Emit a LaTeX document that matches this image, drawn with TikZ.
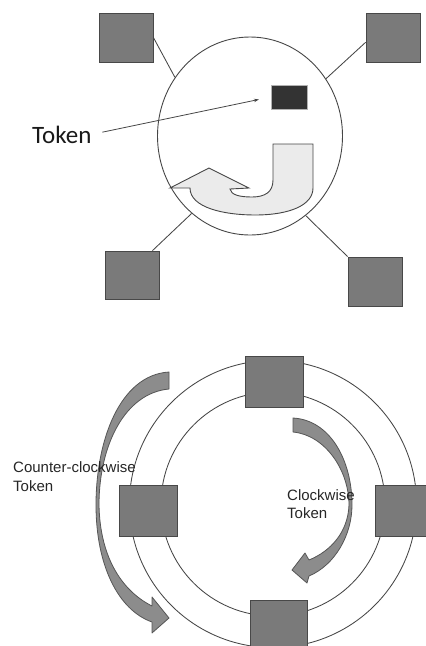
\documentclass[tikz,border=0pt]{standalone}
\usepackage{fontspec}
\newfontfamily\calib{Carlito}
\newfontfamily\helv{Liberation Sans}
\usetikzlibrary{shapes.geometric,arrows.meta,calc}
\definecolor{sqfill}{RGB}{122,122,122}
\definecolor{sqline}{RGB}{72,72,72}
\definecolor{lineg}{RGB}{70,70,70}
\definecolor{tokfill}{RGB}{51,51,51}
\definecolor{jfill}{RGB}{235,235,235}
\definecolor{arrfill}{RGB}{140,140,140}
\definecolor{arrline}{RGB}{85,85,85}
\begin{document}
\begin{tikzpicture}[x=1pt,y=-1pt,
  sq/.style={draw=sqline,fill=sqfill,line width=0.8pt,inner sep=0pt,minimum width=54pt,minimum height=49pt},
  bsq/.style={draw=sqline,fill=sqfill,line width=0.8pt,inner sep=0pt,minimum width=58pt,minimum height=51pt},
  conn/.style={draw=lineg,line width=0.85pt},
  ringline/.style={draw=lineg,line width=0.85pt},
  arr/.style={draw=arrline,fill=arrfill,line width=0.8pt,line join=round},
  lab/.style={font=\helv\fontsize{15}{18}\selectfont,inner sep=0pt,text=black!85,anchor=base west}]
\useasboundingbox (0,0) rectangle (426,646);
\clip (0,0) rectangle (426,646);
% ---------- top diagram ----------
\node[ellipse,draw=lineg,line width=0.9pt,minimum width=185pt,minimum height=198pt,inner sep=0pt] (ring) at (250,136) {};
\node[sq] (tl) at (126,37.5) {};
\node[sq] (tr) at (393,37.5) {};
\node[sq,minimum height=48pt] (bl) at (132,275) {};
\node[sq] (br) at (375,281.5) {};
\draw[conn] (tl.east) -- (ring.142);
\draw[conn] (tr.190) -- (ring.37);
\draw[conn] (bl.50) -- (ring.233);
\draw[conn] (br.north west) -- (ring.305);
\node[draw=gray!60,fill=tokfill,line width=0.7pt,minimum width=36pt,minimum height=24pt,inner sep=0pt] (tokbox) at (289,97) {};
\node[font=\calib\fontsize{25}{30}\selectfont,anchor=base west,inner sep=0pt,text=black!90] (tok) at (32,143) {Token};
\draw[-{Stealth[length=5pt,width=3.5pt]},draw=lineg,line width=0.8pt,shorten <=11pt,shorten >=12pt] (tok.east) -- (tokbox.west);
\draw[draw=lineg,fill=jfill,line width=0.9pt,line join=miter]
  (313,144) -- (273,144) -- (273,180)
  .. controls (273,192) and (265,197) .. (252,197)
  .. controls (240,197) and (231,195) .. (230,189)
  -- (249,188) -- (209,168) -- (170,188) -- (190,188)
  .. controls (190,208) and (225,215) .. (255,215)
  .. controls (290,215) and (313,205) .. (313,188) -- cycle;
% ---------- bottom diagram ----------
\draw[ringline] (273,504) circle[radius=143.6pt];
\draw[ringline] (273,504) circle[radius=112pt];
\node[bsq] (top) at (274,381.5) {};
\node[bsq] (left) at (148,511) {};
\node[bsq] (right) at (404,511) {};
\node[bsq,minimum width=57pt] (bottom) at (278.5,625.5) {};
% counter-clockwise arrow
\draw[arr] (169,372) .. controls (120,375) and (96,440) .. (96,505)
  .. controls (96,565) and (118,610) .. (152,622)
  -- (152,633) -- (169,618) -- (152,597) -- (152,606)
  .. controls (124,592) and (100,560) .. (99,505)
  .. controls (99,445) and (125,393) .. (169,389) -- cycle;
% clockwise arrow
\draw[arr] (293,418) .. controls (330,420) and (352,460) .. (352,505)
  .. controls (352,535) and (335,565) .. (309,576)
  -- (307,583) -- (292,570) -- (305,553) -- (309,560)
  .. controls (331,551) and (348,532) .. (349,505)
  .. controls (349,470) and (325,435) .. (293,432) -- cycle;
\node[lab] (ccw1) at (13,472) {Counter-clockwise};
\node[lab] (ccw2) at (13,491.5) {Token};
\node[lab] (cw1) at (287,500.5) {Clockwise};
\node[lab] (cw2) at (287,518) {Token};
\end{tikzpicture}
\end{document}
